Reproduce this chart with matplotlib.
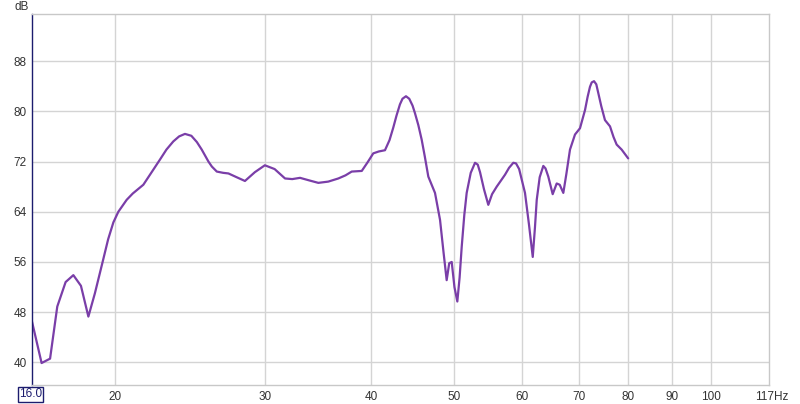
import numpy as np
import matplotlib
matplotlib.use("Agg")
import matplotlib.pyplot as plt

# frequency response (Hz, dB)
freq = [16.0, 16.42, 16.8, 17.13, 17.52, 17.89, 18.26, 18.63, 18.96, 19.36,
        19.65, 19.93, 20.2, 20.66, 21.0, 21.61, 22.1, 22.6, 23.0, 23.43,
        23.8, 24.18, 24.6, 24.97, 25.3, 25.76, 26.0, 26.35, 26.8, 27.19,
        27.8, 28.43, 29.2, 30.0, 30.8, 31.68, 32.3, 32.99, 33.8, 34.66,
        35.6, 36.58, 37.3, 37.93, 38.97, 39.6, 40.2, 40.8, 41.49, 42.0,
        42.43, 42.8, 43.2, 43.5, 43.91, 44.3, 44.7, 44.99, 45.4, 45.81,
        46.2, 46.64, 47.49, 48.14, 48.6, 49.01, 49.35, 49.68, 50.05, 50.44,
        50.75, 51.04, 51.4, 51.73, 52.3, 52.91, 53.3, 53.63, 54.2, 54.84,
        55.4, 56.1, 56.7, 57.37, 58.0, 58.67, 59.1, 59.6, 60.55, 61.2,
        61.83, 62.2, 62.5, 63.0, 63.62, 64.0, 64.48, 65.25, 65.96, 66.5,
        67.15, 67.7, 68.37, 69.3, 70.24, 71.2, 71.7, 72.16, 72.5, 72.95,
        73.4, 73.8, 74.4, 75.14, 76.17, 76.9, 77.55, 78.6, 80.0]
spl = [46.5, 39.9, 40.6, 48.9, 52.8, 53.9, 52.2, 47.3, 51.0, 56.0,
       59.6, 62.3, 64.0, 65.9, 66.9, 68.3, 70.3, 72.3, 73.9, 75.2,
       76.0, 76.4, 76.1, 75.1, 73.9, 72.0, 71.2, 70.4, 70.2, 70.1,
       69.5, 68.9, 70.3, 71.4, 70.8, 69.3, 69.2, 69.4, 69.0, 68.6,
       68.8, 69.3, 69.8, 70.4, 70.5, 71.9, 73.3, 73.6, 73.8, 75.4,
       77.4, 79.3, 81.1, 82.0, 82.4, 82.0, 80.9, 79.7, 77.8, 75.5,
       72.8, 69.6, 67.0, 62.7, 57.5, 53.1, 55.8, 56.0, 52.0, 49.7,
       53.5, 58.4, 63.5, 67.0, 70.2, 71.8, 71.5, 70.3, 67.6, 65.1,
       66.8, 68.0, 68.9, 69.9, 71.0, 71.8, 71.7, 70.8, 67.0, 62.0,
       56.8, 61.5, 65.9, 69.5, 71.3, 70.9, 69.6, 66.8, 68.5, 68.3,
       67.0, 70.0, 73.9, 76.3, 77.3, 80.2, 82.3, 83.9, 84.6, 84.8,
       84.3, 82.9, 80.8, 78.6, 77.6, 75.9, 74.7, 73.9, 72.5]

x_ticks = [20, 30, 40, 50, 60, 70, 80, 90, 100]
y_ticks = [40, 48, 56, 64, 72, 80, 88]

plt.rcParams['font.family'] = ['Liberation Sans', 'DejaVu Sans']

fig = plt.figure(figsize=(8.0, 4.04), dpi=100)
ax = fig.add_axes([32 / 800, 19 / 404, 737 / 800, 371 / 404])

ax.plot(freq, spl, color='#7a3ea8', lw=1.6, solid_joinstyle='round',
        solid_capstyle='round')

ax.set_xscale('log')
ax.set_xlim(16, 117)
ax.set_ylim(36.4, 95.5)
ax.minorticks_off()
ax.set_xticks(x_ticks)
ax.set_xticklabels([str(t) for t in x_ticks])
ax.set_yticks(y_ticks)
ax.set_yticklabels([str(t) for t in y_ticks])
ax.tick_params(length=0, labelsize=8.5, colors='#333333', pad=4)
ax.grid(True, color='#d4d4d4', lw=1)

for s in ['top', 'right', 'bottom']:
    ax.spines[s].set_color('#c8c8c8')
    ax.spines[s].set_linewidth(1)
ax.spines['left'].set_color('#1c1c6e')
ax.spines['left'].set_linewidth(1)

# axis end labels
ax.annotate('117Hz', xy=(117, 36.4), xytext=(2, -4), textcoords='offset points',
            ha='center', va='top', fontsize=8.5, color='#333333')
fig.text(22 / 800, 1 - 7 / 404, 'dB', ha='center', va='center', fontsize=8.5,
         color='#333333')
ax.annotate('16.0', xy=(16, 36.4), xytext=(-1, -2.5), textcoords='offset points',
            ha='center', va='top', fontsize=8.5, color='#1c1c6e',
            bbox=dict(boxstyle='square,pad=0.1', fc='white', ec='#1c1c6e', lw=1))

fig.savefig('out.png', dpi=100)
